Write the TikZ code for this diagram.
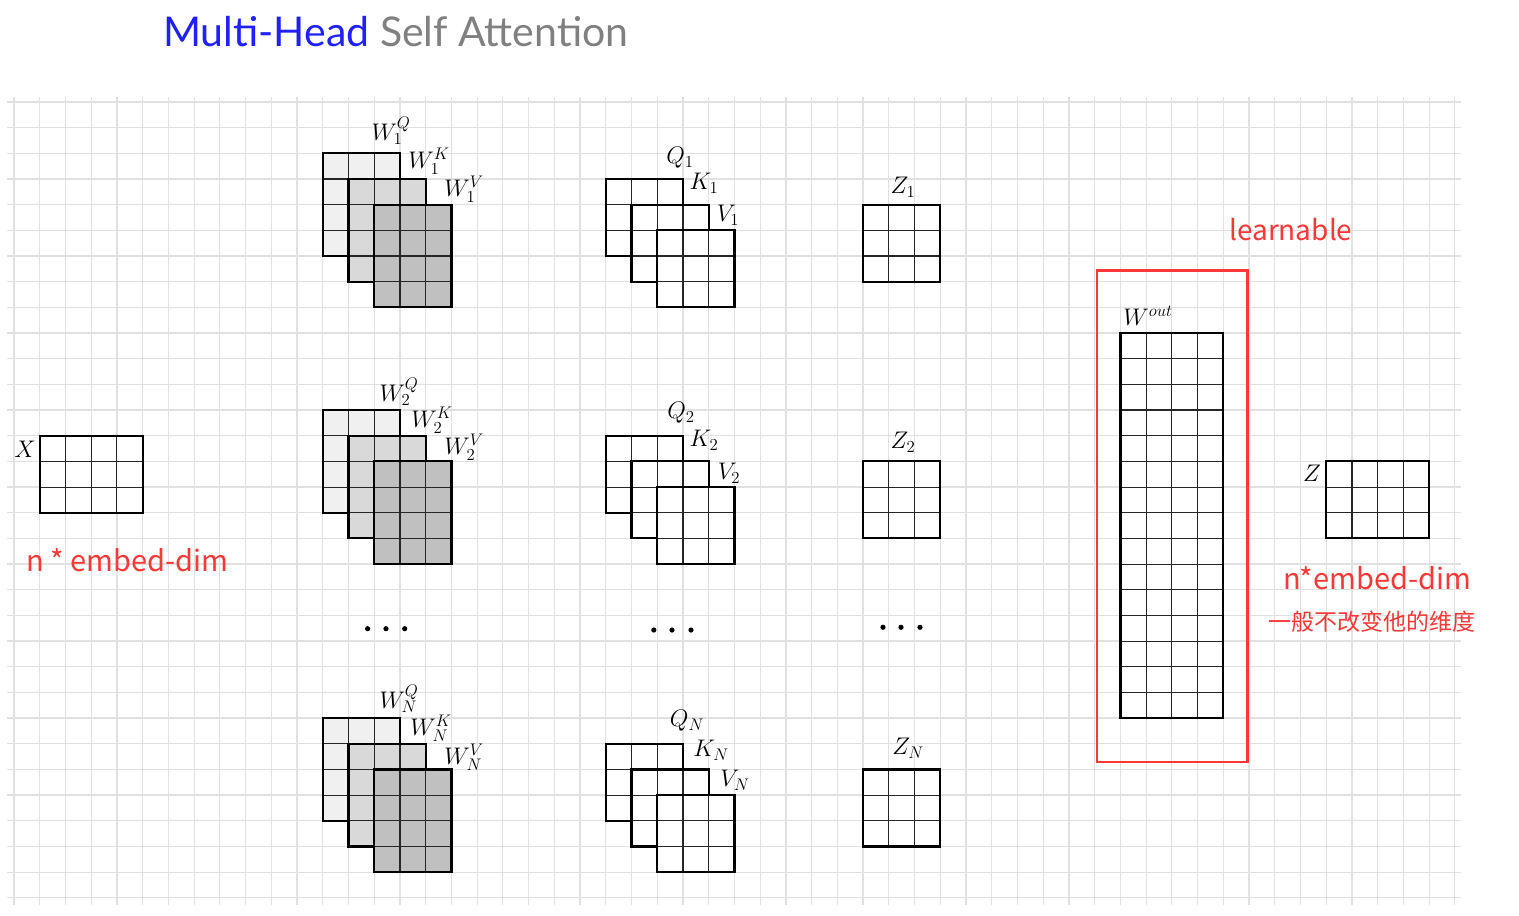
\RequirePackage{fix-cm}
\documentclass[tikz,border=0pt]{standalone}
\usepackage{fontspec}
\newfontfamily\titlefont{Lato}
\newfontfamily\cjk{Noto Sans CJK SC}
\definecolor{gridc}{RGB}{225,225,225}
\definecolor{redc}{RGB}{250,56,56}
\definecolor{titleblue}{RGB}{32,32,255}
\definecolor{titlegray}{RGB}{128,128,128}
\definecolor{fq}{RGB}{240,240,240}
\definecolor{fk}{RGB}{217,217,217}
\definecolor{fv}{RGB}{192,192,192}
\newcommand\mymat[5]{%
  \fill[#5] (#1,#2) rectangle ++(#3,#4);
  \pgfmathtruncatemacro\mync{#3-1}%
  \pgfmathtruncatemacro\mynr{#4-1}%
  \foreach \k in {1,...,\mync}{\draw[innerline] (#1+\k,#2) -- ++(0,#4);}
  \foreach \k in {1,...,\mynr}{\draw[innerline] (#1,#2+\k) -- ++(#3,0);}
  \draw[outerline] (#1,#2) rectangle ++(#3,#4);
}
\begin{document}
\begin{tikzpicture}[x=1pt,y=-1pt,
  gridline/.style={line width=1.2pt,gridc},
  innerline/.style={line width=1.1pt,black!85},
  outerline/.style={line width=2.2pt,black,line join=miter},
  mlab/.style={inner sep=0pt,font=\fontsize{24}{28}\selectfont},
  redlab/.style={inner sep=0pt,text=redc,font=\cjk\fontsize{29}{33}\selectfont},
  cnlab/.style={inner sep=0pt,text=redc,font=\cjk\fontsize{23}{27}\selectfont},
  dotc/.style={fill=black}]
\useasboundingbox (0,0) rectangle (1519,916);
\fill[white] (0,0) rectangle (1519,916);
\node[anchor=base west,inner sep=0pt,font=\titlefont\fontsize{41}{45}\selectfont,text=titlegray] (title) at (163,46) {\textcolor{titleblue}{Multi-Head} Self Attention};
\begin{scope}[xshift=14pt,yshift=-102pt,x=25.73pt,y=-25.67pt]
  \foreach \i in {0,...,56}{\draw[gridline] (\i,-0.2) -- (\i,31.3);}
  \foreach \j in {0,...,31}{\draw[gridline] (-0.27,\j) -- (56.25,\j);}
  % X
  \mymat{1}{13}{4}{3}{white}
  % W stacks
  \foreach \jj in {2,12,24}{
    \mymat{12}{\jj}{3}{4}{fq}
    \mymat{13}{\jj+1}{3}{4}{fk}
    \mymat{14}{\jj+2}{3}{4}{fv}
  }
  % QKV stacks
  \foreach \jj in {3,13,25}{
    \mymat{23}{\jj}{3}{3}{white}
    \mymat{24}{\jj+1}{3}{3}{white}
    \mymat{25}{\jj+2}{3}{3}{white}
  }
  % Z heads
  \mymat{33}{4}{3}{3}{white}
  \mymat{33}{14}{3}{3}{white}
  \mymat{33}{26}{3}{3}{white}
  % Wout
  \mymat{43}{9}{4}{15}{white}
  % Z out
  \mymat{51}{14}{4}{3}{white}
\end{scope}
% red box
\draw[redc,line width=2.8pt] (1097,270.5) rectangle (1247.5,762);
% labels
\node[mlab] (xl) at (25,449) {$X$};
\node[mlab] (zl) at (1312,473) {$Z$};
\node[mlab] (w1q) at (391,131) {$W_1^Q$};
\node[mlab] (w1k) at (429,161) {$W_1^K$};
\node[mlab] (w1v) at (464,189) {$W_1^V$};
\node[mlab] (w2q) at (399,392) {$W_2^Q$};
\node[mlab] (w2k) at (432,420) {$W_2^K$};
\node[mlab] (w2v) at (464,447) {$W_2^V$};
\node[mlab] (wnq) at (399,699) {$W_N^Q$};
\node[mlab] (wnk) at (431,728) {$W_N^K$};
\node[mlab] (wnv) at (464,757) {$W_N^V$};
\node[mlab] (q1) at (680,158) {$Q_1$};
\node[mlab] (k1) at (704,183) {$K_1$};
\node[mlab] (v1) at (728,215) {$V_1$};
\node[mlab] (q2) at (681,413) {$Q_2$};
\node[mlab] (k2) at (704,440) {$K_2$};
\node[mlab] (v2) at (729,473) {$V_2$};
\node[mlab] (qn) at (687,721) {$Q_N$};
\node[mlab] (kn) at (711,750) {$K_N$};
\node[mlab] (vn) at (735,780) {$V_N$};
\node[mlab] (z1) at (903,187) {$Z_1$};
\node[mlab] (z2) at (903,442) {$Z_2$};
\node[mlab] (zn) at (908,748) {$Z_N$};
\node[mlab] (wout) at (1148,316) {$W^{out}$};
% dots
\foreach \x in {367.6,386,404.7}{\fill[dotc] (\x,628.7) circle (2.6);}
\foreach \x in {653.8,672,691}{\fill[dotc] (\x,630) circle (2.6);}
\foreach \x in {883,901,920}{\fill[dotc] (\x,627.3) circle (2.6);}
% red texts
\node[redlab,anchor=base west] (nlab1) at (26,571) {n * embed-dim};
\node[redlab,anchor=base west,font=\cjk\fontsize{28}{32}\selectfont] (learn) at (1229,240) {learnable};
\node[redlab,anchor=base west] (nlab2) at (1283,589) {n*embed-dim};
\node[cnlab,anchor=base west] (cn) at (1268,630) {一般不改变他的维度};
\end{tikzpicture}
\end{document}
